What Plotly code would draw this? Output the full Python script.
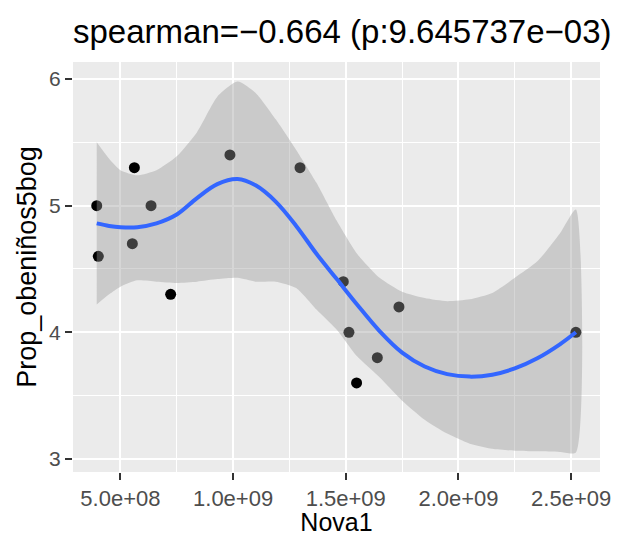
import plotly.graph_objects as go

# ---- data ----
nova1 = [0.395e9, 0.402e9, 0.562e9, 0.553e9, 0.636e9, 0.723e9, 0.986e9,
         1.297e9, 1.489e9, 1.736e9, 1.514e9, 1.640e9, 1.548e9, 2.521e9]
prop = [5.0, 4.6, 5.3, 4.7, 5.0, 4.3, 5.4, 5.3, 4.4, 4.2, 4.0, 3.8, 3.6, 4.0]

# smooth (loess) curve and its confidence band
smooth_x = [0.395e9, 0.45e9, 0.50e9, 0.575e9, 0.66e9, 0.75e9, 0.84e9, 0.93e9,
            1.02e9, 1.10e9, 1.19e9, 1.28e9, 1.37e9, 1.46e9, 1.55e9, 1.65e9,
            1.75e9, 1.85e9, 1.95e9, 2.05e9, 2.15e9, 2.25e9, 2.35e9, 2.45e9,
            2.521e9]
smooth_fit = [4.86, 4.84, 4.83, 4.83, 4.86, 4.93, 5.06, 5.17, 5.21, 5.16,
              5.03, 4.84, 4.62, 4.42, 4.22, 4.01, 3.84, 3.73, 3.67, 3.65,
              3.665, 3.715, 3.795, 3.905, 4.00]
smooth_lo = [4.22, 4.30, 4.36, 4.41, 4.40, 4.39, 4.40, 4.42, 4.43, 4.40,
             4.40, 4.35, 4.18, 4.02, 3.81, 3.645, 3.46, 3.31, 3.20, 3.12,
             3.08, 3.065, 3.06, 3.055, 3.05]
smooth_hi = [5.50, 5.37, 5.28, 5.24, 5.28, 5.39, 5.58, 5.86, 5.98, 5.89,
             5.68, 5.44, 5.18, 4.88, 4.62, 4.43, 4.32, 4.27, 4.245, 4.26,
             4.31, 4.43, 4.56, 4.78, 4.97]

x_tickvals = [0.5e9, 1.0e9, 1.5e9, 2.0e9, 2.5e9]
x_ticktext = ["5.0e+08", "1.0e+09", "1.5e+09", "2.0e+09", "2.5e+09"]
x_minor = [0.75e9, 1.25e9, 1.75e9, 2.25e9]
y_tickvals = [3, 4, 5, 6]
y_ticktext = ["3", "4", "5", "6"]
y_minor = [3.5, 4.5, 5.5]

title_text = "spearman=\u22120.664 (p:9.645737e\u221203)"
x_title = "Nova1"
y_title = "Prop_obeniños5bog"

FONT = "Liberation Sans, Arial, sans-serif"

fig = go.Figure()

fig.add_trace(go.Scatter(
    x=nova1, y=prop, mode="markers",
    marker=dict(color="black", size=11, line=dict(width=0)),
    showlegend=False, hoverinfo="skip"))

fig.add_trace(go.Scatter(
    x=smooth_x + smooth_x[::-1], y=smooth_hi + smooth_lo[::-1],
    fill="toself", fillcolor="rgba(153,153,153,0.4)",
    line=dict(width=0, shape="spline", smoothing=0.6), mode="lines",
    showlegend=False, hoverinfo="skip"))

fig.add_trace(go.Scatter(
    x=smooth_x, y=smooth_fit, mode="lines",
    line=dict(color="#3366FF", width=4, shape="spline", smoothing=1.0),
    showlegend=False, hoverinfo="skip"))

axis_common = dict(
    showline=False, zeroline=False, ticks="outside", ticklen=7, tickwidth=2,
    tickcolor="#333333", showgrid=True, gridcolor="white", gridwidth=2,
    automargin=False,
)

fig.update_layout(
    width=619, height=536,
    margin=dict(l=73, r=19, t=62, b=64),
    paper_bgcolor="white", plot_bgcolor="#EBEBEB",
    font=dict(family=FONT, color="black"),
    title=dict(text=title_text, x=0, xref="paper", xanchor="left",
               y=1 - 31 / 536, yref="container", yanchor="middle",
               automargin=False,
               font=dict(family=FONT, size=33, color="black")),
    xaxis=dict(range=[0.2897e9, 2.628e9], tickmode="array",
               tickvals=x_tickvals, ticktext=x_ticktext,
               tickfont=dict(family=FONT, size=22, color="#4D4D4D"),
               minor=dict(tickvals=x_minor, showgrid=True, gridcolor="white",
                          gridwidth=1, ticks=""),
               title=dict(text=x_title, font=dict(family=FONT, size=25),
                          standoff=5),
               **axis_common),
    yaxis=dict(range=[2.897, 6.134], tickmode="array",
               tickvals=y_tickvals, ticktext=y_ticktext,
               tickfont=dict(family=FONT, size=21, color="#4D4D4D"),
               minor=dict(tickvals=y_minor, showgrid=True, gridcolor="white",
                          gridwidth=1, ticks=""),
               title=dict(text=y_title, font=dict(family=FONT, size=27),
                          standoff=4),
               **axis_common),
)

fig.write_html("out.html",
               config={"displayModeBar": False},
               post_script="document.body.style.margin='0';"
                           "document.body.style.overflow='hidden';")
